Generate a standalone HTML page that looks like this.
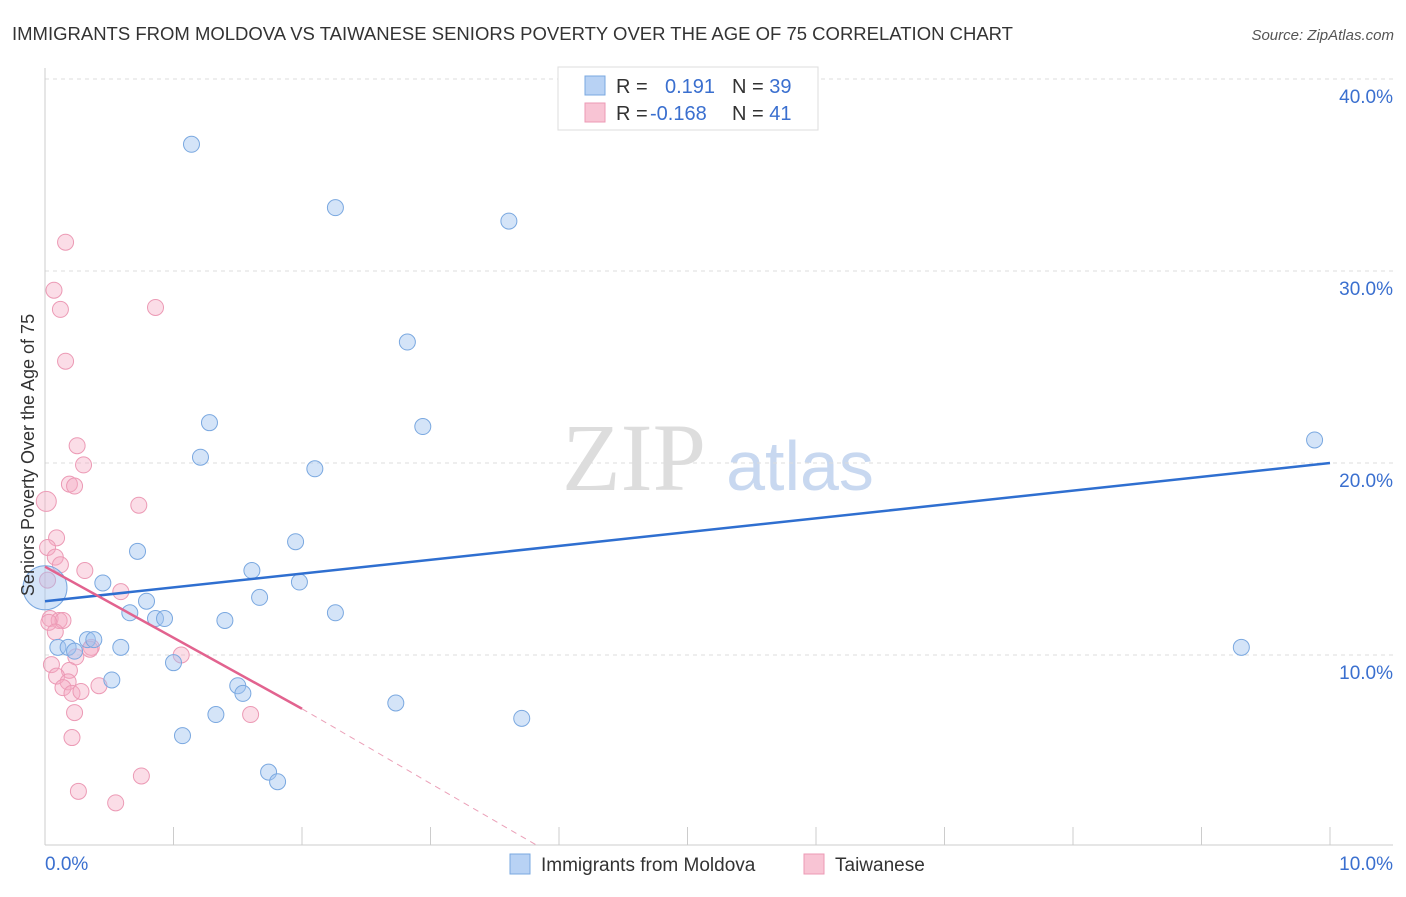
<!DOCTYPE html>
<html><head><meta charset="utf-8"><style>
body{margin:0;background:#fff;font-family:"Liberation Sans",sans-serif;}
</style></head><body>
<svg width="1406" height="892" xmlns="http://www.w3.org/2000/svg" style="font-family:'Liberation Sans',sans-serif">
<text x="12" y="40" font-size="18" fill="#333" textLength="1001" lengthAdjust="spacingAndGlyphs">IMMIGRANTS FROM MOLDOVA VS TAIWANESE SENIORS POVERTY OVER THE AGE OF 75 CORRELATION CHART</text>
<text x="1394" y="40" font-size="15" fill="#555" font-style="italic" text-anchor="end">Source: ZipAtlas.com</text>
<g>
<text x="634" y="490" font-size="96" fill="#ddd" font-family="Liberation Serif,serif" text-anchor="middle">ZIP</text>
<text x="800" y="490" font-size="70" fill="#c8d8f0" text-anchor="middle">atlas</text>
</g>
<g id="grid"></g>
<g id="axes"></g>
<g id="marks"></g>
<text x="34" y="455" font-size="18" fill="#333" text-anchor="middle" transform="rotate(-90 34 455)">Seniors Poverty Over the Age of 75</text>
<g>
<rect x="558" y="67" width="260" height="63" fill="#fff" stroke="#ddd"/>
<rect x="585" y="76" width="20" height="19" fill="#b8d2f4" stroke="#7aa8e0"/>
<rect x="585" y="103" width="20" height="19" fill="#f8c4d4" stroke="#ec9ab5"/>
<text x="616" y="93" font-size="20" fill="#333">R = <tspan fill="#3a6fcf" x="665">0.191</tspan><tspan x="732">N = </tspan><tspan fill="#3a6fcf">39</tspan></text>
<text x="616" y="120" font-size="20" fill="#333">R = <tspan fill="#3a6fcf" x="650">-0.168</tspan><tspan x="732">N = </tspan><tspan fill="#3a6fcf">41</tspan></text>
</g>
<g>
<rect x="510" y="854" width="20" height="20" fill="#b8d2f4" stroke="#7aa8e0"/>
<text x="541" y="871" font-size="19" fill="#333">Immigrants from Moldova</text>
<rect x="804" y="854" width="20" height="20" fill="#f8c4d4" stroke="#ec9ab5"/>
<text x="835" y="871" font-size="19" fill="#333">Taiwanese</text>
</g>
</svg>
<script>
const yTicks=[10,20,30,40];
const yTickLabels=["10.0%","20.0%","30.0%","40.0%"];
const xTickLabels=["0.0%","10.0%"];
const blueX=[1.14,2.26,3.61,2.82,1.28,2.94,1.21,2.10,9.88,1.95,0.72,1.61,0.45,1.98,1.67,0.79,0.66,0.86,0.93,1.40,2.26,0.33,0.38,0.10,0.18,0.59,0.23,9.31,1.00,0.52,1.50,1.54,2.73,1.33,3.71,1.07,1.74,1.81];
const blueY=[36.6,33.3,32.6,26.3,22.1,21.9,20.3,19.7,21.2,15.9,15.4,14.4,13.75,13.8,13.0,12.8,12.2,11.9,11.9,11.8,12.2,10.8,10.8,10.4,10.4,10.4,10.2,10.4,9.6,8.7,8.4,8.0,7.5,6.9,6.7,5.8,3.9,3.4];
const pinkX=[0.16,0.07,0.12,0.86,0.16,0.25,0.30,0.19,0.23,0.73,0.09,0.02,0.08,0.12,0.31,0.59,0.04,0.11,0.14,0.03,0.08,0.36,0.24,1.06,0.05,0.19,0.09,0.18,0.14,0.21,0.28,0.42,0.23,1.60,0.21,0.75,0.26,0.55,0.02,0.35];
const pinkY=[31.5,29.0,28.0,28.1,25.3,20.9,19.9,18.9,18.8,17.8,16.1,15.6,15.1,14.7,14.4,13.3,11.9,11.8,11.8,11.7,11.2,10.4,9.9,10.0,9.5,9.2,8.9,8.6,8.3,8.0,8.1,8.4,7.0,6.9,5.7,3.7,2.9,2.3,13.9,10.3];
const bigBlue=[0.0,13.5];
const bigPink=[0.01,18.0];
const blueTrend=[[0,12.8],[10,20.0]];
const pinkTrend=[[0,14.6],[2,7.2]];
const pinkDash=[[2,7.2],[3.85,0]];

const NS="http://www.w3.org/2000/svg";
const sx=v=>45+v*128.5, sy=v=>847-v*19.2;
function mk(tag,attrs,parent){const e=document.createElementNS(NS,tag);for(const k in attrs)e.setAttribute(k,attrs[k]);parent.appendChild(e);return e;}
const grid=document.getElementById('grid'),axes=document.getElementById('axes'),marks=document.getElementById('marks');
yTicks.forEach((t,i)=>{
 const l=mk('line',{x1:45,x2:1393,y1:sy(t),y2:sy(t),stroke:'#ddd','stroke-dasharray':'4,4'},grid);
 
 
 const tx=mk('text',{x:1393,y:sy(t)+24,'font-size':19,fill:'#3a6fcf','text-anchor':'end'},axes);
 tx.textContent=yTickLabels[i];
 
 
});
let a=mk('line',{x1:45,x2:45,y1:68,y2:845,stroke:'#ccc'},axes);


a=mk('line',{x1:45,x2:1393,y1:845,y2:845,stroke:'#ccc'},axes);


for(let i=1;i<=10;i++){
 const t=mk('line',{x1:sx(i),x2:sx(i),y1:827,y2:845,stroke:'#ccc'},axes);
 
 
}
[[0,'start',45],[10,'end',1393]].forEach((d,i)=>{
 const tx=mk('text',{x:d[2],y:870,'font-size':19,fill:'#3a6fcf','text-anchor':d[1]},axes);
 tx.textContent=xTickLabels[i];
 
 
});
function dot(x,y,r,c,name){
 const e=mk('circle',{cx:sx(x),cy:sy(y),r:r,fill:c[0],stroke:c[1],'stroke-width':1},marks);
 
 
}
const BC=['rgba(160,196,240,0.45)','#7aa8e0'],PC=['rgba(245,170,195,0.4)','#ec9ab5'];
pinkX.forEach((x,i)=>dot(x,pinkY[i],8,PC,'point-taiwanese'));
dot(bigPink[0],bigPink[1],10,PC,'point-taiwanese');
blueX.forEach((x,i)=>dot(x,blueY[i],8,BC,'point-moldova'));
dot(bigBlue[0],bigBlue[1],22,BC,'point-moldova');
let tl=mk('line',{x1:sx(blueTrend[0][0]),y1:sy(blueTrend[0][1]),x2:sx(blueTrend[1][0]),y2:sy(blueTrend[1][1]),stroke:'#2f6fd0','stroke-width':2.5},marks);


tl=mk('line',{x1:sx(pinkTrend[0][0]),y1:sy(pinkTrend[0][1]),x2:sx(pinkTrend[1][0]),y2:sy(pinkTrend[1][1]),stroke:'#e2638f','stroke-width':2.5},marks);


tl=mk('line',{x1:sx(pinkDash[0][0]),y1:sy(pinkDash[0][1]),x2:sx(pinkDash[1][0]),y2:sy(pinkDash[1][1]),stroke:'#eba0b8','stroke-width':1,'stroke-dasharray':'6,5'},marks);


</script>
</body></html>
